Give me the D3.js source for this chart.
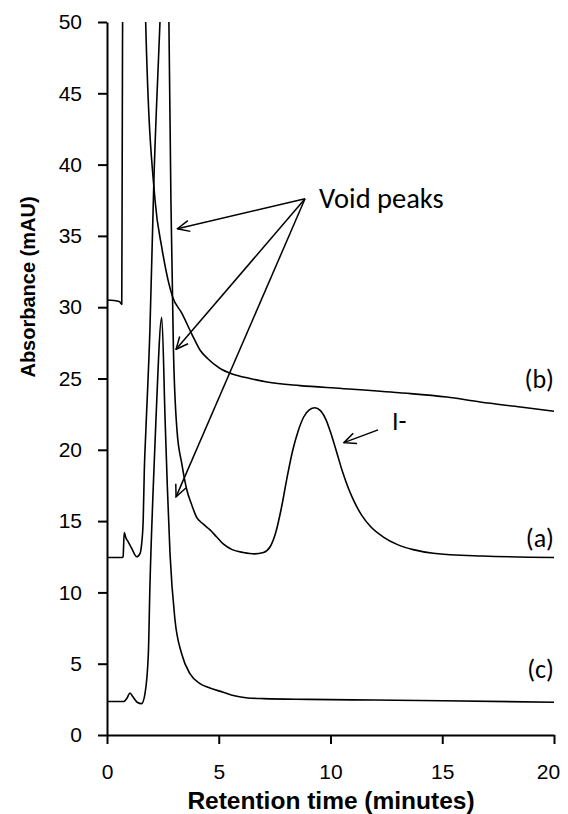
<!DOCTYPE html>
<html lang="en">
<head>
<meta charset="utf-8">
<title>Chromatogram</title>
<script src="https://d3js.org/d3.v7.min.js"></script>
<style>
  body { margin: 0; background: #fff; }
  .tick text { font-family: "Liberation Sans", Arial, sans-serif; font-size: 21px; fill: #000; }
  .axis-title { font-family: "Liberation Sans", Arial, sans-serif; font-weight: bold; fill: #000; }
  .note { font-family: Carlito, Calibri, Lato, sans-serif; fill: #000; }
</style>
</head>
<body>
<div id="chart"></div>
<script>
// trace (a) - sample with iodide peak
var timeA = [0, 0.68, 0.72, 0.77, 0.85, 0.95, 1.1, 1.33, 1.48, 1.55, 1.62, 1.67, 1.74, 1.92, 2.1, 2.37, 2.6,
             2.77, 2.86, 2.97, 3.13, 3.35, 3.57, 3.8, 4.0, 4.3, 4.6, 4.9, 5.2, 5.6, 6.1, 6.6, 7.0,
             7.3, 7.55, 7.8, 8.05, 8.3, 8.55, 8.8, 9.05, 9.3, 9.55, 9.8, 10.05, 10.3, 10.55, 10.8,
             11.05, 11.4, 11.8, 12.35, 13.0, 13.7, 14.6, 16.8, 20];
var absA  = [12.45, 12.45, 12.5, 14.2, 13.8, 13.55, 13.1, 12.5, 12.74, 13.4, 15.1, 18.6, 21.4, 28.4, 39, 50, 60,
             50, 37.5, 27.2, 21.4, 19.0, 17.2, 16.1, 15.3, 14.8, 14.4, 13.9, 13.4, 13.0, 12.8, 12.7, 12.8,
             13.2, 14.2, 15.9, 18.0, 19.9, 21.3, 22.3, 22.8, 22.95, 22.75, 22.1, 21.0, 19.7, 18.4, 17.3,
             16.4, 15.4, 14.6, 13.9, 13.35, 13.0, 12.75, 12.55, 12.45];

// trace (b)
var timeB = [0, 0.55, 0.66, 0.68, 0.72, 1.2, 1.6, 1.73, 2.15, 2.45, 2.94, 3.34, 3.8, 4.16, 4.5, 5.06, 5.64,
             6.4, 7.16, 8.64, 10.5, 13.1, 15.2, 16.7, 18.5, 20];
var absB  = [30.5, 30.4, 30.2, 40, 60, 75, 60, 50, 37.5, 34.2, 30.7, 29.6, 28.1, 27.0, 26.4, 25.7, 25.3,
             25.0, 24.75, 24.5, 24.3, 24.0, 23.7, 23.35, 23.0, 22.7];

// trace (c)
var timeC = [0, 0.75, 0.9, 1.03, 1.15, 1.35, 1.55, 1.7, 1.85, 1.92, 2.07, 2.19, 2.45, 2.6, 2.7, 2.82,
             3.04, 3.34, 3.71, 4.16, 4.6, 5.2, 5.7, 6.3, 7, 9, 12, 15, 20];
var absC  = [2.35, 2.35, 2.6, 2.95, 2.7, 2.3, 2.2, 2.9, 5.7, 10.4, 17.4, 22.1, 29.3, 22.1, 17.4, 12.7,
             8.1, 5.7, 4.3, 3.6, 3.3, 3.0, 2.75, 2.6, 2.55, 2.5, 2.45, 2.4, 2.3];

var xTicks = [0, 5, 10, 15, 20];
var yTicks = [0, 5, 10, 15, 20, 25, 30, 35, 40, 45, 50];

// annotations (data units)
var voidApex = [8.86, 37.6];
var voidTips = [[3.15, 35.5], [3.09, 27.05], [3.09, 16.7]];
var iodideArrow = [[12.13, 21.4], [10.6, 20.5]];
var noteText = ["Void peaks", "I-", "(b)", "(a)", "(c)"];
var noteX = [9.49, 12.75, 20, 20, 20];
var noteY = [36.96, 21.4, 24.3, 13.2, 4.0];

var width = 568, height = 814;
var plotLeft = 107, plotRight = 554, plotTop = 22, plotBottom = 735;

var svgContainer = d3.select('#chart')
  .append('svg')
  .attr('width', width)
  .attr('height', height);

var xScale = d3.scaleLinear().domain([0, 20]).range([plotLeft, plotRight]);
var yScale = d3.scaleLinear().domain([0, 50]).range([plotBottom, plotTop]);

var drawAxes = function() {
  let xAxis = d3.axisBottom(xScale).tickValues(xTicks).tickSize(9).tickPadding(20).tickSizeOuter(0);
  let gx = svgContainer.append('g')
    .attr('transform', 'translate(0,' + plotBottom + ')')
    .call(xAxis);
  // last label is pulled inside the chart area, like the original
  gx.selectAll('.tick text').filter((d) => d === 20).attr('dx', -6);

  let yAxis = d3.axisLeft(yScale).tickValues(yTicks).tickSize(9).tickPadding(16).tickSizeOuter(0);
  let gy = svgContainer.append('g')
    .attr('transform', 'translate(' + plotLeft + ',0)')
    .call(yAxis);

  [gx, gy].forEach(function(g) {
    g.select('.domain').attr('stroke', '#000').attr('stroke-width', 2);
    g.selectAll('.tick line').attr('stroke', '#000').attr('stroke-width', 2);
  });
}

var plotData = function() {
  svgContainer.append('clipPath')
    .attr('id', 'plot-clip')
    .append('rect')
    .attr('x', plotLeft).attr('y', plotTop)
    .attr('width', plotRight - plotLeft + 2).attr('height', plotBottom - plotTop);

  let line = d3.line()
    .x((d) => xScale(d[0]))
    .y((d) => yScale(d[1]))
    .curve(d3.curveMonotoneX);

  let traces = [[timeA, absA], [timeB, absB], [timeC, absC]];
  traces.forEach(function(t) {
    let pts = t[0].map((x, i) => [x, t[1][i]]);
    svgContainer.append('path')
      .datum(pts)
      .attr('clip-path', 'url(#plot-clip)')
      .attr('fill', 'none')
      .attr('stroke', '#000')
      .attr('stroke-width', 1.6)
      .attr('stroke-linejoin', 'round')
      .attr('d', line);
  });
}

var makeLabels = function() {
  svgContainer.append('text')
    .attr('class', 'axis-title')
    .attr('x', 331)
    .attr('y', 809)
    .attr('text-anchor', 'middle')
    .style('font-size', '24.5px')
    .text('Retention time (minutes)');

  svgContainer.append('text')
    .attr('class', 'axis-title')
    .attr('transform', 'translate(35,' + 287 + ')rotate(-90)')
    .attr('text-anchor', 'middle')
    .style('font-size', '20px')
    .text('Absorbance (mAU)');

  // arrows
  let defs = svgContainer.append('defs');
  defs.append('marker')
    .attr('id', 'arrow')
    .attr('viewBox', '0 0 14 14')
    .attr('refX', 13).attr('refY', 7)
    .attr('markerWidth', 14).attr('markerHeight', 14)
    .attr('markerUnits', 'userSpaceOnUse')
    .attr('orient', 'auto')
    .append('path')
    .attr('d', 'M1,1.5 L13,7 L1,12.5')
    .attr('fill', 'none')
    .attr('stroke', '#000')
    .attr('stroke-width', 1.5);

  let arrows = voidTips.map((t) => [voidApex, t]).concat([iodideArrow]);
  svgContainer.selectAll('.arrow')
    .data(arrows)
    .enter()
    .append('line')
      .attr('class', 'arrow')
      .attr('x1', (d) => xScale(d[0][0]))
      .attr('y1', (d) => yScale(d[0][1]))
      .attr('x2', (d) => xScale(d[1][0]))
      .attr('y2', (d) => yScale(d[1][1]))
      .attr('stroke', '#000')
      .attr('stroke-width', 1.5)
      .attr('marker-end', 'url(#arrow)');

  svgContainer.selectAll('.note')
    .data(noteText)
    .enter()
    .append('text')
      .attr('class', 'note')
      .attr('x', (d, i) => xScale(noteX[i]))
      .attr('y', (d, i) => yScale(noteY[i]))
      .attr('text-anchor', (d, i) => i >= 2 ? 'end' : 'start')
      .style('font-size', (d, i) => i === 0 ? '28.5px' : '26px')
      .text((d) => d);
}

drawAxes();
plotData();
makeLabels();
</script>
</body>
</html>
